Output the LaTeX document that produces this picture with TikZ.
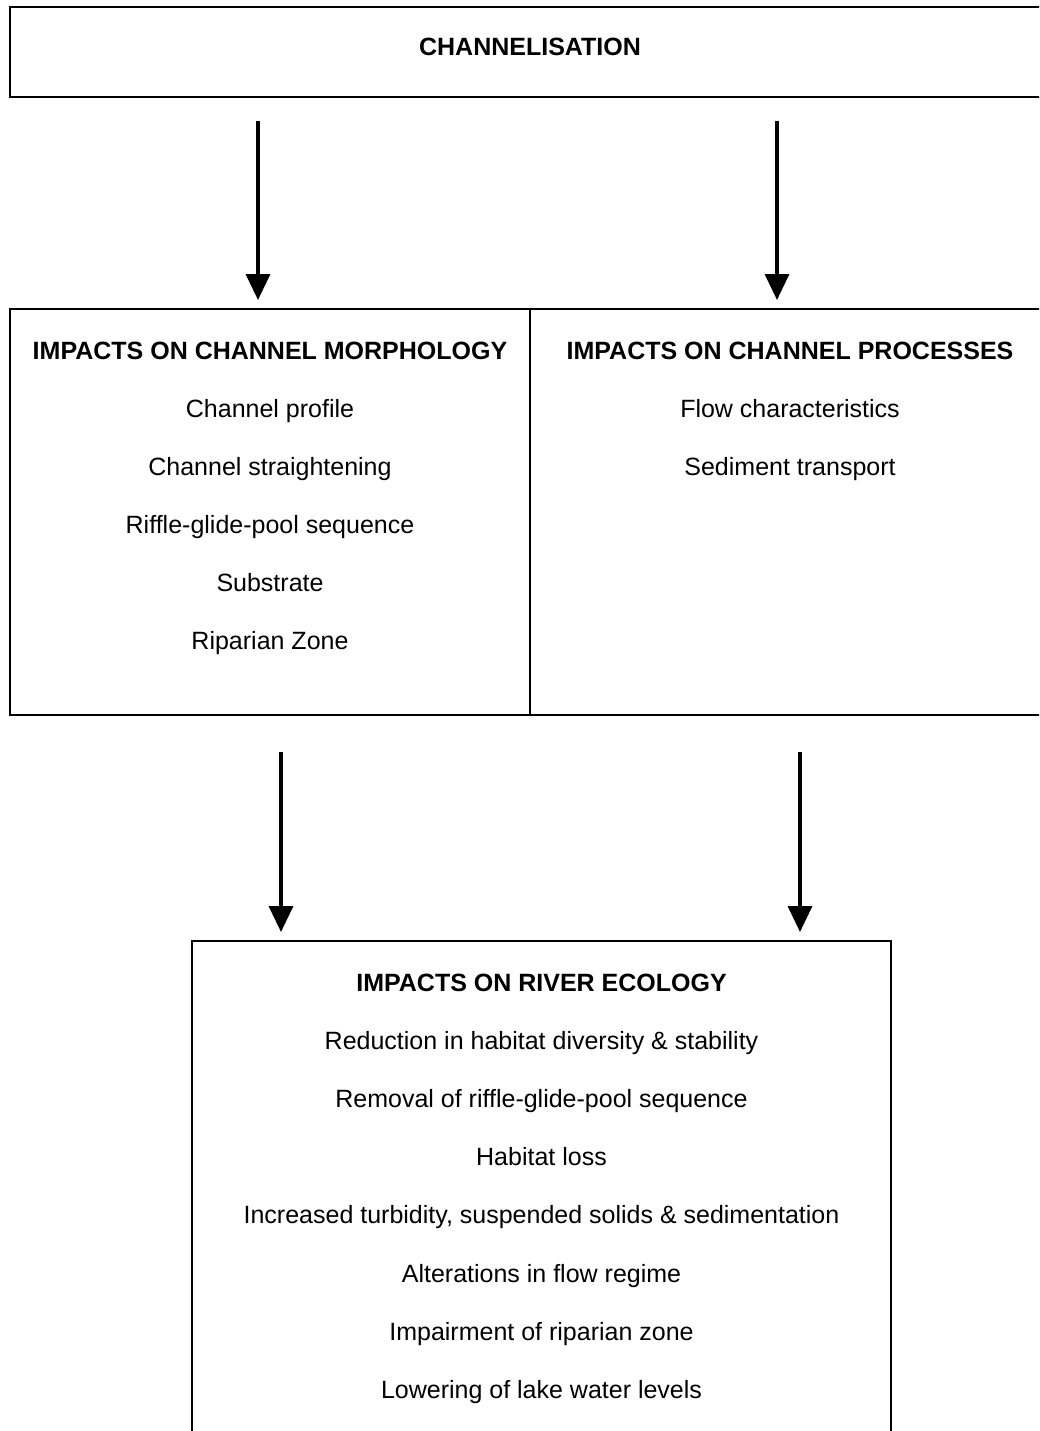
\documentclass[tikz,border=0pt]{standalone}
\usepackage{fontspec}
\setmainfont{Liberation Sans}
\usetikzlibrary{arrows.meta}
\begin{document}
\begin{tikzpicture}[x=1pt,y=-1pt,line width=2pt,
    font=\fontsize{25}{30}\selectfont]
    \tikzstyle{box}=[draw,rectangle,inner sep=0pt]
    \tikzstyle{head}=[anchor=base,font=\fontsize{25}{30}\selectfont\bfseries]
    \tikzstyle{item}=[anchor=base]
    \tikzstyle{flow}=[-{Triangle[width=24pt,length=26pt]},line width=3.5pt]

    \clip (0,0) rectangle (1039,1431);

    % boxes
    \node[box,minimum width=1040pt,minimum height=90pt] (chan) at (530,52) {};
    \node[box,minimum width=520pt,minimum height=406pt] (morph) at (270,512) {};
    \node[box,minimum width=520pt,minimum height=406pt] (proc) at (790,512) {};
    \node[box,minimum width=699pt,minimum height=540pt] (eco) at (541.5,1211) {};

    % headings
    \node[head] (t-chan) at (530,56) {CHANNELISATION};
    \node[head] (t-morph) at (270,359) {IMPACTS ON CHANNEL MORPHOLOGY};
    \node[head] (t-proc) at (790,359) {IMPACTS ON CHANNEL PROCESSES};
    \node[head] (t-eco) at (541.5,991) {IMPACTS ON RIVER ECOLOGY};

    \foreach \t [count=\i] in {Channel profile,Channel straightening,
        Riffle-glide-pool sequence,Substrate,Riparian Zone}
    \node[item] (m-\i) at (270,359+58*\i) {\t};

    \foreach \t [count=\i] in {Flow characteristics,Sediment transport}
    \node[item] (p-\i) at (790,359+58*\i) {\t};

    \foreach \t [count=\i] in {Reduction in habitat diversity \& stability,
        Removal of riffle-glide-pool sequence,Habitat loss,
        {Increased turbidity, suspended solids \& sedimentation},
        Alterations in flow regime,Impairment of riparian zone,
        Lowering of lake water levels}
    \node[item] (e-\i) at (541.5,991+58.2*\i) {\t};

    % arrows
    \coordinate (a1) at (258,121);
    \coordinate (a2) at (777,121);
    \coordinate (a3) at (281,752);
    \coordinate (a4) at (800,752);
    \draw[flow,shorten >=8pt] (a1) -- (a1 |- morph.north);
    \draw[flow,shorten >=8pt] (a2) -- (a2 |- proc.north);
    \draw[flow,shorten >=8pt] (a3) -- (a3 |- eco.north);
    \draw[flow,shorten >=8pt] (a4) -- (a4 |- eco.north);
\end{tikzpicture}
\end{document}
